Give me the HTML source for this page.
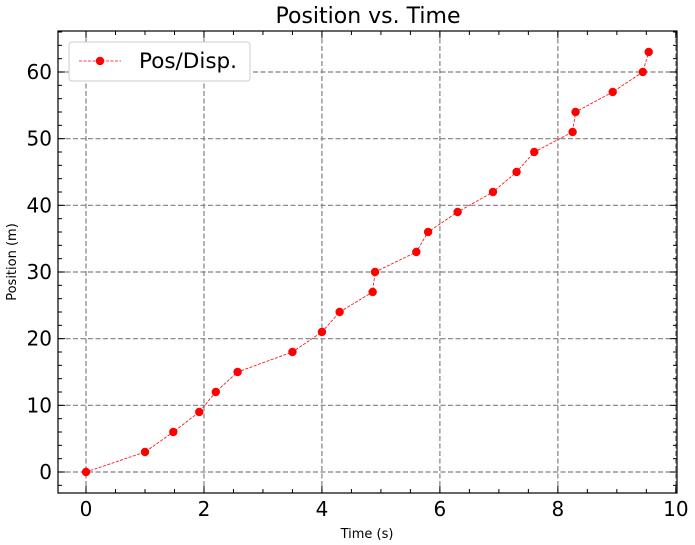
<!DOCTYPE html>
<html><head><meta charset="utf-8"><style>
body{margin:0;background:#fff;}
svg{display:block;font-family:"DejaVu Sans","Liberation Sans",sans-serif;}
</style></head><body>
<svg id="chart" width="695" height="545"></svg>
<script>
const times=[0,1,1.48,1.92,2.2,2.57,3.5,4,4.3,4.86,4.9,5.6,5.8,6.3,6.9,7.3,7.6,8.25,8.3,8.93,9.44,9.54];
const positions=[0,3,6,9,12,15,18,21,24,27,30,33,36,39,42,45,48,51,54,57,60,63];
const xTicks=[0,2,4,6,8,10];
const yTicks=[0,10,20,30,40,50,60];
const L=58,R=677,T=31,B=493;
const xMin=-0.475,xMax=10.02,yMin=-3.15,yMax=66.15;
const sx=v=>L+(v-xMin)/(xMax-xMin)*(R-L);
const sy=v=>B-(v-yMin)/(yMax-yMin)*(B-T);
const svg=document.getElementById('chart');
const NS='http://www.w3.org/2000/svg';
function mk(tag,attrs,parent){const e=document.createElementNS(NS,tag);for(const k in attrs)e.setAttribute(k,attrs[k]);(parent||svg).appendChild(e);return e;}
xTicks.forEach(t=>{const x=sx(t);if(x>L&&x<R){const g=mk('line',{x1:x,x2:x,y1:T,y2:B,stroke:'#808080','stroke-dasharray':'5,2.5','stroke-width':1.2});

}});
yTicks.forEach(t=>{const y=sy(t);const g=mk('line',{x1:L,x2:R,y1:y,y2:y,stroke:'#808080','stroke-dasharray':'5,2.5','stroke-width':1.2});

});
for(let v=-0.5;v<=10.01;v+=0.5){const x=sx(v);if(x<L-0.1||x>R+0.1)continue;const major=Math.abs(v/2-Math.round(v/2))<1e-6;const len=major?7:4;
mk('line',{x1:x,x2:x,y1:B,y2:B-len,stroke:'#000'});mk('line',{x1:x,x2:x,y1:T,y2:T+len,stroke:'#000'});}
for(let v=-2;v<=66;v+=2){const y=sy(v);if(y<T||y>B)continue;const major=v%10===0;const len=major?7:4;
mk('line',{x1:L,x2:L+len,y1:y,y2:y,stroke:'#000'});mk('line',{x1:R,x2:R-len,y1:y,y2:y,stroke:'#000'});}
xTicks.forEach(t=>{const e=mk('text',{x:sx(t),y:B+23,'text-anchor':'middle','font-size':20});e.textContent=t;

});
yTicks.forEach(t=>{const e=mk('text',{x:L-6,y:sy(t)+7,'text-anchor':'end','font-size':20});e.textContent=t;

});
mk('rect',{x:L,y:T,width:R-L,height:B-T,fill:'none',stroke:'#000','stroke-width':1.2});
const pts=times.map((t,i)=>sx(t)+','+sy(positions[i])).join(' ');
const line=mk('polyline',{points:pts,fill:'none',stroke:'red','stroke-width':0.8,'stroke-dasharray':'3,1.5'});


times.forEach((t,i)=>{const c=mk('circle',{cx:sx(t),cy:sy(positions[i]),r:4.2,fill:'red'});

});
const title=mk('text',{x:368,y:23,'text-anchor':'middle','font-size':22});title.textContent='Position vs. Time';


const xl=mk('text',{x:367,y:538,'text-anchor':'middle','font-size':13});xl.textContent='Time (s)';


const yl=mk('text',{x:16,y:262,'text-anchor':'middle','font-size':13,transform:'rotate(-90 16 262)'});yl.textContent='Position (m)';


const lg=mk('g',{});


mk('rect',{x:69,y:42,width:181,height:39,rx:3,fill:'#fff',stroke:'#ccc'},lg);
mk('line',{x1:79,x2:121,y1:61,y2:61,stroke:'red','stroke-width':0.8,'stroke-dasharray':'3,1.5'},lg);
mk('circle',{cx:100,cy:61,r:4.2,fill:'red'},lg);
const lt=mk('text',{x:139,y:68,'font-size':21.5},lg);lt.textContent='Pos/Disp.';


</script>
</body></html>
